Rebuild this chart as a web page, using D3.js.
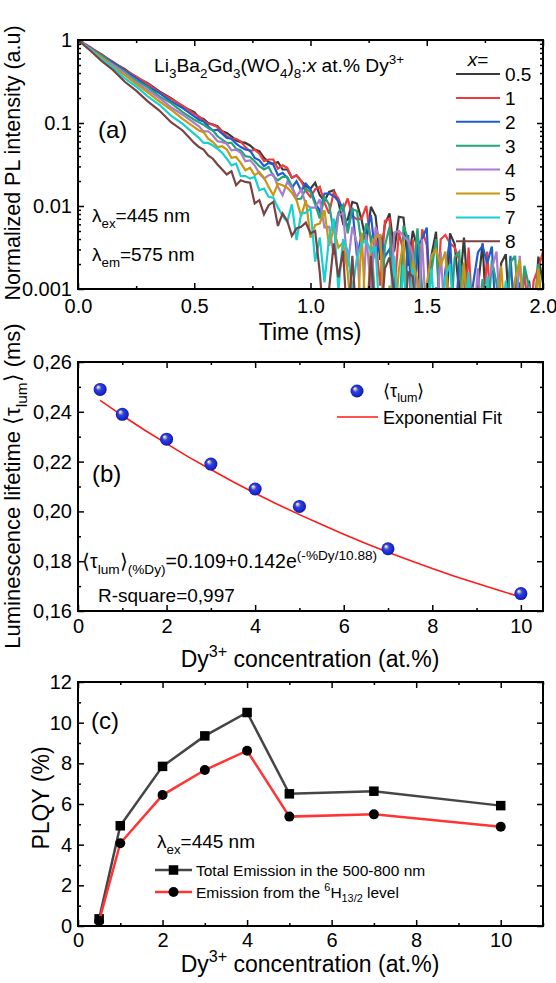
<!DOCTYPE html>
<html><head><meta charset="utf-8">
<script src="https://cdn.jsdelivr.net/npm/d3@7"></script>
<style>
body{margin:0;background:#fff}
svg{display:block}
text{font-family:"Liberation Sans",Arial,Helvetica,sans-serif;fill:#000}
</style>
</head><body>
<svg id="chart" width="556" height="983"></svg>
<script>
// ---------------- DATA ----------------
// Panel (a): decay curves, log10 of normalized PL intensity
const decayTimes = [0,0.05,0.1,0.15,0.2,0.25,0.3,0.35,0.4,0.45,0.5,
0.52,0.54,0.56,0.58,0.6,0.62,0.64,0.66,0.68,0.7,0.72,0.74,0.76,0.78,0.8,0.82,0.84,0.86,0.88,0.9,
0.92,0.94,0.96,0.98,1,1.02,1.04,1.06,1.08,1.1,1.12,1.14,1.16,1.18,1.2,1.22,1.24,1.26,1.28,1.3,
1.32,1.34,1.36,1.38,1.4,1.42,1.44,1.46,1.48,1.5,1.52,1.54,1.56,1.58,1.6,1.62,1.64,1.66,1.68,1.7,
1.72,1.74,1.76,1.78,1.8,1.82,1.84,1.86,1.88,1.9,1.92,1.94,1.96,1.98,2];

const logI_x05 = [0,-0.09,-0.17,-0.27,-0.35,-0.45,-0.52,-0.62,-0.70,-0.80,-0.87,
-0.93,-0.95,-1.00,-1.02,-1.04,-1.10,-1.12,-1.16,-1.21,-1.23,
-1.24,-1.27,-1.32,-1.34,-1.42,-1.47,-1.49,-1.47,-1.56,-1.56,
-1.66,-1.63,-1.70,-1.76,-1.79,-1.72,-1.87,-1.94,-1.83,-1.81,
-1.95,-2.21,-2.16,-1.95,-1.97,-2.17,-2.44,-2.01,-2.12,-2.65,
-2.22,-2.09,-2.55,-2.13,-2.14,-2.72,-2.30,-2.51,-3.5,-3.5,
-2.60,-2.31,-3.5,-3.5,-2.33,-2.46,-3.06,-2.38,-3.17,-3.23,
-2.99,-2.45,-3.5,-3.5,-3.5,-2.69,-2.58,-3.5,-2.88,-3.5,
-3.5,-2.90,-3.5,-2.61,-2.93];

const logI_x1 = [0,-0.08,-0.18,-0.26,-0.36,-0.44,-0.53,-0.63,-0.71,-0.79,-0.89,
-0.92,-0.97,-1.01,-1.02,-1.05,-1.10,-1.16,-1.19,-1.19,-1.22,
-1.29,-1.34,-1.32,-1.37,-1.46,-1.44,-1.44,-1.55,-1.51,-1.54,
-1.66,-1.63,-1.70,-1.82,-1.89,-1.80,-1.77,-1.96,-2.09,-1.83,
-1.91,-2.05,-1.91,-2.12,-2.16,-2.15,-2.00,-2.44,-2.40,-2.96,
-2.18,-2.15,-3.06,-2.32,-2.55,-3.5,-2.40,-3.5,-2.28,-2.47,
-3.5,-3.5,-2.40,-2.35,-2.45,-2.50,-2.65,-3.5,-2.50,-3.5,
-3.5,-3.5,-2.55,-3.5,-3.0,-3.5,-3.5,-3.5,-3.5,-3.5,
-2.75,-3.5,-2.90,-2.75,-2.55];

const logI_x2 = [0,-0.09,-0.19,-0.27,-0.37,-0.46,-0.56,-0.64,-0.74,-0.82,-0.92,
-0.96,-0.98,-1.04,-1.09,-1.08,-1.13,-1.18,-1.19,-1.25,-1.29,
-1.32,-1.33,-1.42,-1.45,-1.52,-1.48,-1.50,-1.63,-1.60,-1.66,
-1.78,-1.70,-1.82,-1.73,-1.80,-1.95,-2.07,-1.85,-1.85,-1.88,
-1.94,-2.04,-2.28,-2.02,-2.61,-2.35,-2.32,-2.11,-2.63,-2.35,
-2.61,-2.52,-2.97,-3.5,-3.5,-2.35,-3.5,-2.48,-2.40,-2.26,
-3.5,-2.98,-3.5,-2.78,-2.40,-3.5,-2.66,-2.89,-3.5,-2.93,
-2.56,-2.48,-2.69,-2.49,-3.5,-3.5,-3.5,-2.60,-3.5,-2.92,
-3.5,-2.93,-3.5,-3.5,-3.5];

const logI_x3 = [0,-0.10,-0.19,-0.29,-0.38,-0.49,-0.57,-0.68,-0.76,-0.87,-0.96,
-0.99,-1.02,-1.06,-1.09,-1.16,-1.20,-1.24,-1.24,-1.31,-1.33,
-1.40,-1.41,-1.46,-1.52,-1.56,-1.53,-1.64,-1.69,-1.65,-1.65,
-1.76,-1.92,-1.91,-1.79,-1.83,-1.98,-2.15,-1.89,-1.98,-2.32,
-2.08,-1.99,-2.33,-2.04,-2.06,-2.48,-2.21,-2.37,-3.25,-3.5,
-2.48,-2.25,-3.5,-3.5,-2.24,-2.40,-2.89,-2.27,-2.99,-3.05,
-2.79,-2.40,-3.5,-3.5,-3.5,-2.62,-2.55,-3.5,-2.83,-3.5,
-3.5,-2.88,-3.5,-2.65,-2.93,-3.5,-3.5,-2.68,-2.60,-3.5,
-2.72,-2.97,-3.5,-2.70,-3.5];

const logI_x4 = [0,-0.10,-0.21,-0.30,-0.40,-0.51,-0.60,-0.70,-0.81,-0.90,-1.00,
-1.04,-1.10,-1.10,-1.15,-1.22,-1.23,-1.25,-1.33,-1.32,-1.36,
-1.46,-1.45,-1.51,-1.61,-1.67,-1.63,-1.62,-1.77,-1.87,-1.71,
-1.78,-1.89,-1.80,-1.98,-2.02,-2.02,-1.92,-2.26,-2.25,-2.59,
-2.11,-2.09,-2.73,-2.25,-2.45,-3.5,-2.34,-3.02,-2.25,-2.43,
-3.5,-3.5,-2.32,-2.30,-2.36,-2.42,-2.59,-3.5,-2.40,-3.5,
-3.5,-3.5,-2.55,-3.5,-2.98,-3.5,-3.5,-3.5,-3.5,-3.5,
-2.75,-3.5,-2.93,-2.76,-2.55,-3.5,-3.5,-3.5,-3.5,-2.60,
-3.5,-2.97,-3.5,-3.5,-3.5];

const logI_x5 = [0,-0.11,-0.21,-0.32,-0.42,-0.53,-0.63,-0.74,-0.84,-0.95,-1.05,
-1.09,-1.11,-1.19,-1.23,-1.29,-1.28,-1.32,-1.42,-1.41,-1.48,
-1.57,-1.54,-1.63,-1.59,-1.66,-1.77,-1.87,-1.73,-1.75,-1.78,
-1.84,-1.93,-2.12,-1.93,-2.38,-2.23,-2.21,-2.05,-2.48,-2.27,
-2.50,-2.44,-2.80,-3.5,-3.5,-2.32,-3.5,-2.46,-2.38,-2.35,
-3.5,-2.96,-3.5,-2.77,-2.42,-3.5,-2.66,-2.89,-3.5,-2.94,
-2.60,-2.52,-2.72,-2.55,-3.5,-3.5,-3.5,-2.68,-3.5,-2.98,
-3.5,-2.98,-3.5,-3.5,-3.5,-2.72,-3.5,-3.5,-2.88,-2.65,
-3.5,-3.5,-3.5,-2.75,-3.5];

const logI_x7 = [0,-0.11,-0.23,-0.33,-0.46,-0.56,-0.68,-0.78,-0.91,-1.01,-1.13,
-1.18,-1.24,-1.24,-1.27,-1.31,-1.36,-1.43,-1.51,-1.49,-1.64,
-1.64,-1.67,-1.65,-1.81,-1.79,-1.89,-1.90,-2.02,-2.12,-2.19,
-1.98,-2.41,-2.09,-2.08,-2.03,-2.67,-2.38,-2.92,-2.38,-2.15,
-3.02,-2.40,-2.54,-3.02,-2.62,-2.45,-2.42,-2.55,-2.50,-3.5,
-3.5,-3.5,-2.60,-3.5,-2.71,-3.5,-2.74,-3.5,-3.5,-3.5,
-2.75,-3.5,-3.5,-2.85,-2.70,-3.5,-3.5,-3.5,-2.80,-3.5,
-3.5,-3.5,-2.85,-3.5,-3.5,-3.5,-2.90,-3.5,-3.5,-3.5,
-3.5,-3.5,-3.5,-3.5,-3.5];

const logI_x8 = [0,-0.12,-0.25,-0.36,-0.50,-0.61,-0.74,-0.85,-0.99,-1.09,-1.24,
-1.29,-1.32,-1.39,-1.43,-1.50,-1.56,-1.62,-1.58,-1.75,-1.69,
-1.71,-1.72,-1.97,-1.93,-2.10,-1.99,-1.95,-2.24,-2.09,-2.18,
-2.36,-2.27,-2.25,-2.20,-2.33,-2.30,-2.80,-3.5,-3.00,-2.45,
-2.86,-2.54,-3.5,-2.60,-3.5,-3.5,-3.5,-2.60,-3.5,-3.5,
-2.75,-2.62,-3.05,-3.5,-3.5,-2.80,-2.85,-3.5,-3.5,-3.5,
-3.5,-3.5,-3.5,-3.5,-3.5,-3.5,-3.5,-3.5,-3.5,-3.5,
-3.5,-3.5,-3.5,-3.5,-3.5,-3.5,-3.5,-3.5,-3.5,-3.5,
-3.5,-3.5,-3.5,-3.5,-3.5];

const decayLabels = ['0.5','1','2','3','4','5','7','8'];
const decayXTicks = [0,0.5,1,1.5,2];
const decayXMinor = [0.25,0.75,1.25,1.75];
const decayYTicks = [1,0.1,0.01,0.001];

// Panel (b): luminescence lifetime
const lifetimeConc = [0.5,1,2,3,4,5,7,10];
const lifetimeMs = [0.249,0.239,0.229,0.219,0.209,0.202,0.185,0.167];
const fitConc = [0.5,1,1.5,2,2.5,3,3.5,4,4.5,5,5.5,6,6.5,7,7.5,8,8.5,9,9.5,10];
const fitMs = [0.2446,0.2385,0.2327,0.2272,0.2218,0.2168,0.2119,0.2073,0.2029,0.1987,
0.1947,0.1908,0.1871,0.1836,0.1803,0.1771,0.1740,0.1711,0.1683,0.1656];
const lifetimeYTicks = [0.16,0.18,0.20,0.22,0.24,0.26];
const lifetimeYMinor = [0.17,0.19,0.21,0.23,0.25];
const concTicks = [0,2,4,6,8,10];
const concMinorB = [1,3,5,7,9];

// Panel (c): PLQY
const plqyConc = [0.5,1,2,3,4,5,7,10];
const plqyTotal = [0.35,4.93,7.85,9.35,10.5,6.5,6.63,5.92];
const plqyH13 = [0.25,4.07,6.44,7.67,8.62,5.38,5.49,4.88];
const plqyYTicks = [0,2,4,6,8,10,12];
const plqyYMinor = [1,3,5,7,9,11];
const concMinorC = [1,3,5,7,9,11];

// ---------------- STYLE ----------------
const decayColors = ['#3a3a3a','#f03a3c','#1e5cd2','#22a57c','#ab7bcc','#c9960e','#18d0d0','#7a4242'];
const FF = '"Liberation Sans",Arial,Helvetica,sans-serif';

const svg = d3.select('#chart');
const defs = svg.append('defs');

const PA = {l:78, r:543, t:40, b:289};
const PB = {l:78, r:543, t:362, b:611};
const PC = {l:78, r:543, t:682, b:926};

function rich(g, x, y, parts, fs, opts = {}) {
  const t = g.append('text').attr('x', x).attr('y', y).style('font-size', fs + 'px');
  if (opts.anchor) t.attr('text-anchor', opts.anchor);
  if (opts.transform) t.attr('transform', opts.transform);
  let prev = 0;
  parts.forEach(p => {
    const s = typeof p === 'string' ? p : p[0];
    const kind = typeof p === 'string' ? null : p[1];
    let shift = 0, size = fs;
    if (kind === 'sub') { shift = 0.3 * fs; size = 0.7 * fs; }
    if (kind === 'sup') { shift = -0.42 * fs; size = 0.7 * fs; }
    const ts = t.append('tspan').text(s).attr('dy', (shift - prev).toFixed(2)).style('font-size', size + 'px');
    if (kind === 'i') ts.style('font-style', 'italic');
    prev = shift;
  });
  return t;
}

function axes(P, x, y, cfg) {
  const g = svg.append('g');
  const mk = (axis, tx, ty) => {
    const a = g.append('g').attr('transform', `translate(${tx},${ty})`).call(axis)
      .attr('font-family', null).attr('font-size', null);
    a.select('.domain').remove();
    a.selectAll('line').attr('stroke', '#000').attr('stroke-width', 1.5);
    a.selectAll('text').style('font-size', '20px').style('font-family', FF);
    return a;
  };
  mk(d3.axisBottom(x).tickValues(cfg.xMajor).tickSize(-6).tickPadding(cfg.xPad).tickFormat(cfg.xFmt), 0, P.b);
  mk(d3.axisBottom(x).tickValues(cfg.xMinor).tickSize(-3).tickFormat(''), 0, P.b);
  mk(d3.axisTop(x).tickValues(cfg.xMajor).tickSize(-6).tickFormat(''), 0, P.t);
  mk(d3.axisTop(x).tickValues(cfg.xMinor).tickSize(-3).tickFormat(''), 0, P.t);
  mk(d3.axisLeft(y).tickValues(cfg.yMajor).tickSize(-6).tickPadding(6).tickFormat(cfg.yFmt), P.l, 0);
  mk(d3.axisLeft(y).tickValues(cfg.yMinor).tickSize(-3).tickFormat(''), P.l, 0);
  mk(d3.axisRight(y).tickValues(cfg.yMajor).tickSize(-6).tickFormat(''), P.r, 0);
  mk(d3.axisRight(y).tickValues(cfg.yMinor).tickSize(-3).tickFormat(''), P.r, 0);
  g.append('rect').attr('x', P.l).attr('y', P.t).attr('width', P.r - P.l).attr('height', P.b - P.t)
    .attr('fill', 'none').attr('stroke', '#000').attr('stroke-width', 2);
}

// ---------------- PANEL (a) ----------------
const xA = d3.scaleLinear().domain([0, 2]).range([PA.l, PA.r]);
const yA = d3.scaleLog().domain([0.001, 1]).range([PA.b, PA.t]);
defs.append('clipPath').attr('id', 'clipA').append('rect')
  .attr('x', PA.l).attr('y', PA.t).attr('width', PA.r - PA.l).attr('height', PA.b - PA.t);

const decaySeries = [logI_x05, logI_x1, logI_x2, logI_x3, logI_x4, logI_x5, logI_x7, logI_x8];
const lineA = d3.line().x(d => xA(d[0])).y(d => yA(Math.pow(10, d[1])));
const gA = svg.append('g').attr('clip-path', 'url(#clipA)');
decaySeries.forEach((vals, i) => {
  gA.append('path').datum(decayTimes.map((t, k) => [t, vals[k]]))
    .attr('d', lineA).attr('fill', 'none').attr('stroke', decayColors[i])
    .attr('stroke-width', 2.2).attr('stroke-linejoin', 'miter').attr('stroke-miterlimit', 3);
});

const minorLog = [];
[0.001, 0.01, 0.1].forEach(dec => { for (let m = 2; m <= 9; m++) minorLog.push(dec * m); });
axes(PA, xA, yA, {
  xMajor: decayXTicks, xMinor: decayXMinor, xPad: 10, xFmt: d3.format('.1f'),
  yMajor: decayYTicks, yMinor: minorLog, yFmt: d => (d === 1 ? '1' : String(d))
});

rich(svg, 154, 72, ['Li', ['3', 'sub'], 'Ba', ['2', 'sub'], 'Gd', ['3', 'sub'], '(WO', ['4', 'sub'], ')', ['8', 'sub'], ':', ['x', 'i'], ' at.% Dy', ['3+', 'sup']], 19.2);
svg.append('text').attr('x', 98).attr('y', 138).style('font-size', '24px').text('(a)');
rich(svg, 92, 222, ['λ', ['ex', 'sub'], '=445 nm'], 19);
rich(svg, 92, 261, ['λ', ['em', 'sub'], '=575 nm'], 19);

// legend (a)
rich(svg, 478, 66, [['x', 'i'], '='], 19, {anchor: 'middle'});
decayLabels.forEach((lab, i) => {
  const yy = 74 + i * 23.9;
  svg.append('line').attr('x1', 456).attr('x2', 500).attr('y1', yy).attr('y2', yy)
    .attr('stroke', decayColors[i]).attr('stroke-width', 2);
  svg.append('text').attr('x', 505).attr('y', yy + 7).style('font-size', '19px').text(lab);
});

rich(svg, 0, 0, ['Normalized PL intensity (a.u)'], 21.5, {anchor: 'middle', transform: 'translate(20,163) rotate(-90)'});
svg.append('text').attr('x', 310).attr('y', 340).attr('text-anchor', 'middle').style('font-size', '23px').text('Time (ms)');

// ---------------- PANEL (b) ----------------
const xB = d3.scaleLinear().domain([0, 10.5]).range([PB.l, PB.r]);
const yB = d3.scaleLinear().domain([0.16, 0.26]).range([PB.b, PB.t]);
axes(PB, xB, yB, {
  xMajor: concTicks, xMinor: concMinorB, xPad: 8, xFmt: d3.format('d'),
  yMajor: lifetimeYTicks, yMinor: lifetimeYMinor, yFmt: d => d3.format('.2f')(d).replace('.', ',')
});

const grad = defs.append('radialGradient').attr('id', 'sphere')
  .attr('cx', '50%').attr('cy', '50%').attr('r', '55%').attr('fx', '32%').attr('fy', '30%');
grad.append('stop').attr('offset', '0%').attr('stop-color', '#fffbe6');
grad.append('stop').attr('offset', '18%').attr('stop-color', '#b8b49a');
grad.append('stop').attr('offset', '38%').attr('stop-color', '#3342e6');
grad.append('stop').attr('offset', '80%').attr('stop-color', '#1424c8');
grad.append('stop').attr('offset', '100%').attr('stop-color', '#060a70');

const fitLine = d3.line().x((d, i) => xB(fitConc[i])).y(d => yB(d));
svg.append('path').datum(fitMs).attr('d', fitLine).attr('fill', 'none')
  .attr('stroke', '#ff1a1a').attr('stroke-width', 1.6);
svg.append('g').selectAll('circle').data(lifetimeMs).join('circle')
  .attr('cx', (d, i) => xB(lifetimeConc[i])).attr('cy', d => yB(d)).attr('r', 6.5)
  .attr('fill', 'url(#sphere)');

// legend (b)
svg.append('circle').attr('cx', 357).attr('cy', 391).attr('r', 6.5).attr('fill', 'url(#sphere)');
rich(svg, 383, 397, ['⟨τ', ['lum', 'sub'], '⟩'], 18);
svg.append('line').attr('x1', 337).attr('x2', 378).attr('y1', 417).attr('y2', 417)
  .attr('stroke', '#ff1a1a').attr('stroke-width', 1.6);
svg.append('text').attr('x', 383).attr('y', 424).style('font-size', '18px').text('Exponential Fit');

svg.append('text').attr('x', 92).attr('y', 482).style('font-size', '24px').text('(b)');
rich(svg, 82, 568, ['⟨τ', ['lum', 'sub'], '⟩', ['(%Dy)', 'sub'], '=0.109+0.142e', ['(-%Dy/10.88)', 'sup']], 19.5);
svg.append('text').attr('x', 98).attr('y', 602).style('font-size', '19px').text('R-square=0,997');

rich(svg, 0, 0, ['Luminescence lifetime ⟨τ', ['lum', 'sub'], '⟩ (ms)'], 22, {anchor: 'middle', transform: 'translate(20,486) rotate(-90)'});
rich(svg, 310, 667, ['Dy', ['3+', 'sup'], ' concentration (at.%)'], 23, {anchor: 'middle'});

// ---------------- PANEL (c) ----------------
const xC = d3.scaleLinear().domain([0, 11]).range([PC.l, PC.r]);
const yC = d3.scaleLinear().domain([0, 12]).range([PC.b, PC.t]);
axes(PC, xC, yC, {
  xMajor: concTicks, xMinor: concMinorC, xPad: 7, xFmt: d3.format('d'),
  yMajor: plqyYTicks, yMinor: plqyYMinor, yFmt: d3.format('d')
});

const lineC = d3.line().x((d, i) => xC(plqyConc[i])).y(d => yC(d));
svg.append('path').datum(plqyTotal).attr('d', lineC).attr('fill', 'none')
  .attr('stroke', '#454545').attr('stroke-width', 2.5);
svg.append('g').selectAll('rect').data(plqyTotal).join('rect')
  .attr('x', (d, i) => xC(plqyConc[i]) - 4.75).attr('y', d => yC(d) - 4.75)
  .attr('width', 9.5).attr('height', 9.5).attr('fill', '#000');
svg.append('path').datum(plqyH13).attr('d', lineC).attr('fill', 'none')
  .attr('stroke', '#ff3535').attr('stroke-width', 2.5);
svg.append('g').selectAll('circle').data(plqyH13).join('circle')
  .attr('cx', (d, i) => xC(plqyConc[i])).attr('cy', d => yC(d)).attr('r', 5).attr('fill', '#000');

svg.append('text').attr('x', 91).attr('y', 729).style('font-size', '24px').text('(c)');
rich(svg, 157, 848, ['λ', ['ex', 'sub'], '=445 nm'], 19);
svg.append('line').attr('x1', 155).attr('x2', 192).attr('y1', 870).attr('y2', 870)
  .attr('stroke', '#454545').attr('stroke-width', 2.5);
svg.append('rect').attr('x', 173.5 - 4.75).attr('y', 870 - 4.75).attr('width', 9.5).attr('height', 9.5).attr('fill', '#000');
svg.append('text').attr('x', 196).attr('y', 875.5).style('font-size', '15.5px').text('Total Emission in the 500-800 nm');
svg.append('line').attr('x1', 155).attr('x2', 192).attr('y1', 892).attr('y2', 892)
  .attr('stroke', '#ff3535').attr('stroke-width', 2.5);
svg.append('circle').attr('cx', 173.5).attr('cy', 892).attr('r', 5).attr('fill', '#000');
rich(svg, 196, 897.5, ['Emission from the ', ['6', 'sup'], 'H', ['13/2', 'sub'], ' level'], 15.5);

rich(svg, 0, 0, ['PLQY (%)'], 23, {anchor: 'middle', transform: 'translate(49,798) rotate(-90)'});
rich(svg, 310, 972, ['Dy', ['3+', 'sup'], ' concentration (at.%)'], 23, {anchor: 'middle'});
</script>
</body></html>
